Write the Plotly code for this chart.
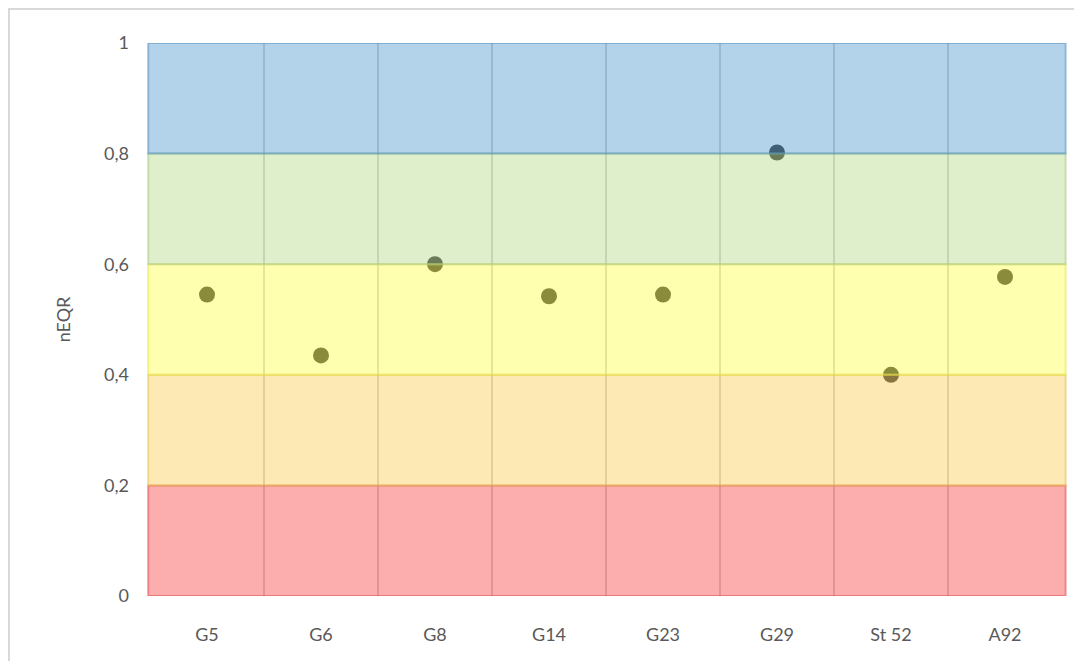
import plotly.graph_objects as go

categories = ["G5", "G6", "G8", "G14", "G23", "G29", "St 52", "A92"]
neqr = [0.545, 0.435, 0.600, 0.542, 0.545, 0.802, 0.400, 0.577]

band_bounds = [0.0, 0.2, 0.4, 0.6, 0.8, 1.0]
# semi-transparent bands drawn over the points (as in the original)
band_base = [(248, 75, 75), (251, 206, 86), (255, 255, 79), (184, 219, 142), (86, 157, 208)]
y_ticks = [0, 0.2, 0.4, 0.6, 0.8, 1.0]

# page body has an 8px margin, so the figure is placed at (8, 8)
W, H = 1074, 653
L, R, T, B = 142, 20, 35, 65
PW, PH = W - L - R, H - T - B

fig = go.Figure()

fig.add_trace(go.Scatter(
    x=categories, y=neqr, mode="markers",
    marker=dict(size=16, color="#2c2c2c", line=dict(width=0)),
    cliponaxis=False, showlegend=False, hoverinfo="x+y",
))

shapes = []
for i, (r, g, b) in enumerate(band_base):
    shapes.append(dict(
        type="rect", xref="paper", yref="y", layer="above",
        x0=-0.002, x1=1.004, y0=band_bounds[i], y1=band_bounds[i + 1],
        fillcolor=f"rgba({r},{g},{b},0.45)",
        line=dict(color=f"rgba({int(r*0.9)},{int(g*0.9)},{int(b*0.9)},0.5)", width=2),
    ))

# outer chart frame (partly cut off at right/bottom)
shapes.append(dict(
    type="rect", xref="paper", yref="paper",
    x0=(1 - L) / PW, x1=1.3, y0=-0.3, y1=(H - B - 1) / PH,
    fillcolor="rgba(0,0,0,0)", line=dict(color="#d9d9d9", width=2),
))

fig.update_layout(
    width=W, height=H,
    margin=dict(l=L, r=R, t=T, b=B),
    paper_bgcolor="white", plot_bgcolor="white",
    separators=", ",
    font=dict(family="Lato, 'Open Sans', sans-serif", size=18, color="#595959"),
    shapes=shapes,
    showlegend=False,
)

fig.update_xaxes(
    type="category", categoryorder="array", categoryarray=categories,
    range=[-0.5, len(categories) - 0.5],
    tickson="boundaries", showgrid=True,
    gridcolor="#cfcfcf", gridwidth=2,
    ticks="", ticklabelstandoff=26,
    showline=False, zeroline=False,
    tickfont=dict(size=18, color="#595959"),
)

fig.update_yaxes(
    range=[0, 1], tickvals=y_ticks,
    showgrid=False, zeroline=False, showline=False,
    ticks="", ticklabelstandoff=20,
    tickfont=dict(size=18, color="#595959"),
    title=dict(text="nEQR", font=dict(size=18, color="#595959"), standoff=28),
)

fig.write_html("out.html")
